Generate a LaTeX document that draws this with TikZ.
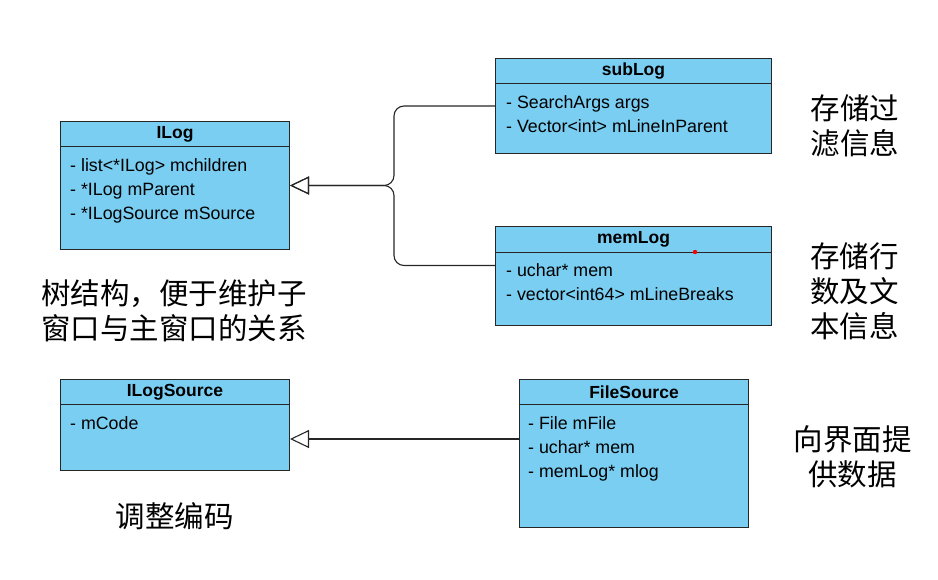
\documentclass[tikz,border=0pt]{standalone}
\usepackage{fontspec}
\setmainfont{Liberation Sans}
\newfontfamily\cjk{Noto Sans CJK SC}
\usetikzlibrary{arrows.meta}

\definecolor{umlfill}{RGB}{121,206,242}
\definecolor{umlline}{RGB}{38,38,38}

\tikzset{
  classbox/.style={draw=umlline, fill=umlfill, line width=1pt, anchor=north west, inner sep=0pt},
  classhead/.style={classbox, minimum height=25pt, font=\bfseries\fontsize{17.5}{21}\selectfont},
  attrs/.style={anchor=north west, align=left, inner sep=0pt, font=\fontsize{17.8}{24}\selectfont},
  note/.style={align=center, inner sep=0pt, font=\cjk\fontsize{29.5}{35}\selectfont},
  extends/.style={-{Triangle[open, length=19pt, width=18pt]}, line width=1.1pt, draw=umlline}
}

\begin{document}
\begin{tikzpicture}[x=1pt, y=-1pt]

    \useasboundingbox (0,0) rectangle (938,580);

    % classes
    \node [classbox, minimum width=229pt, minimum height=128pt] (ILog) at (60,121) {};
    \node [classhead, minimum width=229pt] (ILog-head) at (ILog.north west) {ILog};
    \node [attrs] (ILog-attrs) at ([xshift=10pt, yshift=-37pt]ILog.north west)
        {- list<*ILog> mchildren\\- *ILog mParent\\- *ILogSource mSource};

    \node [classbox, minimum width=276pt, minimum height=95pt] (subLog) at (495,58) {};
    \node [classhead, minimum width=276pt] (subLog-head) at (subLog.north west) {subLog};
    \node [attrs] (subLog-attrs) at ([xshift=11pt, yshift=-37pt]subLog.north west)
        {- SearchArgs args\\- Vector<int> mLineInParent};

    \node [classbox, minimum width=276pt, minimum height=99pt] (memLog) at (495,226) {};
    \node [classhead, minimum width=276pt, minimum height=26pt] (memLog-head) at (memLog.north west) {memLog};
    \node [attrs] (memLog-attrs) at ([xshift=11pt, yshift=-37pt]memLog.north west)
        {- uchar* mem\\- vector<int64> mLineBreaks};

    \node [classbox, minimum width=229pt, minimum height=91pt] (ILogSource) at (60,379) {};
    \node [classhead, minimum width=229pt] (ILogSource-head) at (ILogSource.north west) {ILogSource};
    \node [attrs] (ILogSource-attrs) at ([xshift=10pt, yshift=-37pt]ILogSource.north west)
        {- mCode};

    \node [classbox, minimum width=229pt, minimum height=148pt] (FileSource) at (519,379) {};
    \node [classhead, minimum width=229pt] (FileSource-head) at (FileSource.north west) {FileSource};
    \node [attrs] (FileSource-attrs) at ([xshift=9pt, yshift=-37pt]FileSource.north west)
        {- File mFile\\- uchar* mem\\- memLog* mlog};

    \fill [red] (695,252) circle (2.2pt);

    % notes
    \node [note] (treeNote) at (174,311) {树结构，便于维护子\\窗口与主窗口的关系};
    \node [note] (codeNote) at (174.5,516) {调整编码};
    \node [note] (subNote) at (855,126) {存储过\\滤信息};
    \node [note] (memNote) at (854.5,291.5) {存储行\\数及文\\本信息};
    \node [note] (fileNote) at (852.5,457) {向界面提\\供数据};

    % inheritance
    \coordinate (joint) at ([xshift=104pt]ILog.east);
    \draw [extends, rounded corners=10pt] (subLog.west) -| (joint) -- (ILog.east);
    \draw [extends, rounded corners=10pt] ([yshift=10.5pt]memLog.west) -| (joint) -- (ILog.east);

    \coordinate (fs-out) at ([yshift=14.5pt]FileSource.west);
    \draw [extends] (fs-out) -- (fs-out -| ILogSource.east);

\end{tikzpicture}
\end{document}
